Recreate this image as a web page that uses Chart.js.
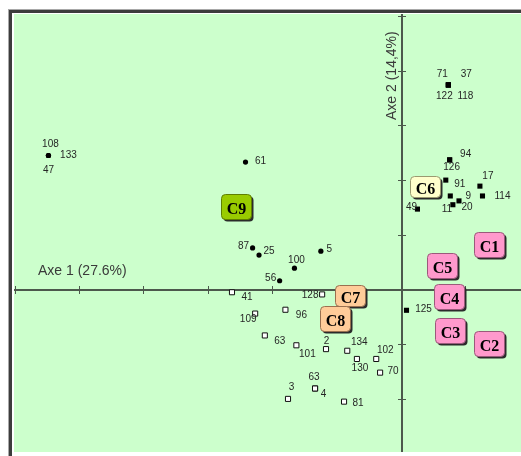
<!DOCTYPE html>
<html>
<head>
<meta charset="utf-8">
<script src="https://cdn.jsdelivr.net/npm/chart.js@4.4.1/dist/chart.umd.min.js"></script>
<style>
  html, body { margin: 0; padding: 0; background: #fff; overflow: hidden; }
  #plane { position: absolute; left: 0; top: 0; display: block; }
</style>
</head>
<body>
<canvas id="plane" width="521" height="456"></canvas>
<script>
// Individuals on the first factorial plane (axis 1 horizontal, axis 2 vertical)

// Class C9 members
const groupALabels = ['108', '133', '47', '61', '87', '25', '5', '100', '56'];
const groupAX = [-5.49, -5.49, -5.49, -2.43, -2.32, -2.22, -1.26, -1.67, -1.90];
const groupAY = [2.45, 2.45, 2.45, 2.33, 0.76, 0.63, 0.70, 0.39, 0.16];

// Class C6 members (and 125)
const groupBLabels = ['71', '37', '122', '118', '94', '126', '91', '17', '114', '9', '11', '20', '49', '125'];
const groupBX = [0.72, 0.72, 0.72, 0.72, 0.74, 0.74, 0.68, 1.21, 1.25, 0.75, 0.79, 0.885, 0.24, 0.07];
const groupBY = [3.74, 3.74, 3.74, 3.74, 2.37, 2.37, 2.00, 1.89, 1.71, 1.71, 1.55, 1.62, 1.47, -0.38];

// Classes C7 / C8 members
const groupCLabels = ['41', '128', '109', '96', '63', '101', '2', '134', '130', '102', '70', '63', '4', '3', '81'];
const groupCX = [-2.64, -1.24, -2.28, -1.81, -2.13, -1.64, -1.18, -0.85, -0.70, -0.40, -0.34, -1.35, -1.35, -1.77, -0.90];
const groupCY = [-0.05, -0.09, -0.44, -0.37, -0.84, -1.02, -1.09, -1.12, -1.27, -1.27, -1.52, -1.81, -1.81, -2.00, -2.05];

// Class centres
const classLabels = ['C1', 'C2', 'C3', 'C4', 'C5', 'C6', 'C7', 'C8', 'C9'];
const classX = [1.351, 1.354, 0.738, 0.730, 0.626, 0.365, -0.811, -1.048, -2.575];
const classY = [0.817, -0.991, -0.746, -0.135, 0.433, 1.887, -0.104, -0.539, 1.512];

const axisTitles = ['Axe 1 (27.6%)', 'Axe 2 (14,4%)'];
const axisTicksX = [-6, -5, -4, -3, -2, -1, 1];
const axisTicksY = [-2, -1, 1, 2, 3, 4, 5];

// ---- presentation ----
// where each point's number sits relative to its marker (px)
const labelNudge = {
  0: [[2, -12], [20, -1], [0, 14], [15, -1.5], [-9, -3], [10, -5], [8.5, -3], [2, -9], [-9, -3]],
  1: [[-6, -12], [18, -12], [-4, 10], [17, 10], [16, -6.5], [2, 7], [14, 3.5], [8, -11], [20, -1], [18, -1], [-6, 4], [8, 6], [-6, -3], [17, -2]],
  2: [[15, 4], [-12, 0], [-7, 5], [16, 4.5], [15, 5], [11, 8], [0.5, -9], [12, -9.5], [3, 8], [9, -9.5], [13, -2], [-1, -12], [8.5, 4.5], [3.5, -12], [14, 1]]
};
const classStyle = {
  C1: ['#ff99cc', '#9a5a7a', 25], C2: ['#ff99cc', '#9a5a7a', 25], C3: ['#ff99cc', '#9a5a7a', 25],
  C4: ['#ff99cc', '#9a5a7a', 25], C5: ['#ff99cc', '#9a5a7a', 25], C6: ['#ffffcc', '#9a9a70', 21],
  C7: ['#ffcc99', '#9a7050', 21], C8: ['#ffcc99', '#9a7050', 25], C9: ['#99cc00', '#5f7f00', 25]
};

const pts = (xs, ys) => xs.map((v, i) => ({ x: v, y: ys[i] }));

function roundRect(ctx, x, y, w, h, r) {
  ctx.beginPath();
  ctx.moveTo(x + r, y);
  ctx.arcTo(x + w, y, x + w, y + h, r);
  ctx.arcTo(x + w, y + h, x, y + h, r);
  ctx.arcTo(x, y + h, x, y, r);
  ctx.arcTo(x, y, x + w, y, r);
  ctx.closePath();
}

const planePlugin = {
  id: 'planePlugin',
  beforeDraw(chart) {
    const { ctx, chartArea: a } = chart;
    ctx.save();
    ctx.fillStyle = '#ffffff';
    ctx.fillRect(0, 0, chart.width, chart.height);
    ctx.fillStyle = '#a8a8a8';
    ctx.fillRect(8, 9, chart.width - 8, 1);
    ctx.fillRect(8, 9, 1, chart.height - 9);
    ctx.fillStyle = '#3c3c3c';
    ctx.fillRect(9, 10, chart.width - 9, 3);
    ctx.fillRect(9, 10, 3, chart.height - 10);
    ctx.fillStyle = '#ccffcc';
    ctx.fillRect(a.left, a.top, a.right - a.left, a.bottom - a.top);
    ctx.restore();
  },
  beforeDatasetsDraw(chart) {
    const { ctx, chartArea: a, scales: { x, y } } = chart;
    const x0 = Math.round(x.getPixelForValue(0)) - 1;
    const y0 = Math.round(y.getPixelForValue(0)) - 1;
    ctx.save();
    ctx.fillStyle = '#4c584c';
    ctx.fillRect(a.left, y0, a.right - a.left, 2);
    ctx.fillRect(x0, a.top, 2, a.bottom - a.top);
    axisTicksX.forEach(v => {
      const p = Math.round(x.getPixelForValue(v));
      if (p >= a.left && p <= a.right) ctx.fillRect(p - 1, y0 - 3, 1, 8);
    });
    axisTicksY.forEach(v => {
      const p = Math.round(y.getPixelForValue(v));
      if (p >= a.top && p <= a.bottom) ctx.fillRect(x0 - 3, p, 8, 1);
    });
    ctx.fillStyle = '#3a3a3a';
    ctx.font = '14px "Liberation Sans", Arial, sans-serif';
    ctx.textAlign = 'left';
    ctx.textBaseline = 'alphabetic';
    ctx.fillText(axisTitles[0], 38, y0 - 14);
    ctx.translate(x0 - 5, 120);
    ctx.rotate(-Math.PI / 2);
    ctx.fillText(axisTitles[1], 0, 0);
    ctx.restore();
  },
  afterDatasetsDraw(chart) {
    const { ctx } = chart;
    ctx.save();
    // point numbers
    ctx.font = '10px "Liberation Sans", Arial, sans-serif';
    ctx.fillStyle = '#262626';
    ctx.textAlign = 'center';
    ctx.textBaseline = 'alphabetic';
    [0, 1, 2].forEach(di => {
      const ds = chart.data.datasets[di];
      const meta = chart.getDatasetMeta(di);
      meta.data.forEach((el, i) => {
        const [dx, dy] = labelNudge[di][i];
        ctx.fillText(ds.pointLabels[i], el.x + dx, el.y + dy + 3.6);
      });
    });
    // class boxes
    const meta = chart.getDatasetMeta(3);
    const ds = chart.data.datasets[3];
    meta.data.forEach((el, i) => {
      const name = ds.pointLabels[i];
      const [fill, border, h] = classStyle[name];
      const w = 30;
      const left = Math.round(el.x - w / 2) + 0.5;
      const top = Math.round(el.y - h / 2) + 0.5;
      ctx.fillStyle = '#2b2b2b';
      roundRect(ctx, left + 2, top + 2, w, h, 4);
      ctx.fill();
      ctx.fillStyle = fill;
      ctx.strokeStyle = border;
      ctx.lineWidth = 1;
      roundRect(ctx, left, top, w, h, 4);
      ctx.fill();
      ctx.stroke();
      ctx.fillStyle = '#000';
      ctx.font = 'bold 16px "Liberation Serif", "Times New Roman", serif';
      ctx.textAlign = 'center';
      ctx.fillText(name, left + w / 2, top + h / 2 + 6.5);
    });
    ctx.restore();
  }
};

new Chart(document.getElementById('plane'), {
  type: 'scatter',
  data: {
    datasets: [
      { pointLabels: groupALabels, data: pts(groupAX, groupAY), pointStyle: 'circle', pointRadius: 2.6,
        backgroundColor: '#000', borderWidth: 0 },
      { pointLabels: groupBLabels, data: pts(groupBX, groupBY), pointStyle: 'rect', pointRadius: 3.6,
        backgroundColor: '#000', borderWidth: 0 },
      { pointLabels: groupCLabels, data: pts(groupCX, groupCY), pointStyle: 'rect', pointRadius: 3.6,
        backgroundColor: '#fff', borderColor: '#111', borderWidth: 1 },
      { pointLabels: classLabels, data: pts(classX, classY), pointRadius: 0, borderWidth: 0 }
    ]
  },
  options: {
    responsive: false,
    animation: false,
    events: [],
    layout: { autoPadding: false, padding: { left: 14, top: 14, right: 0, bottom: 4 } },
    plugins: { legend: { display: false }, tooltip: { enabled: false } },
    scales: {
      x: { type: 'linear', display: false, min: -6.025, max: 1.848 },
      y: { type: 'linear', display: false, min: -2.971, max: 5.037 }
    }
  },
  plugins: [planePlugin]
});
</script>
</body>
</html>
